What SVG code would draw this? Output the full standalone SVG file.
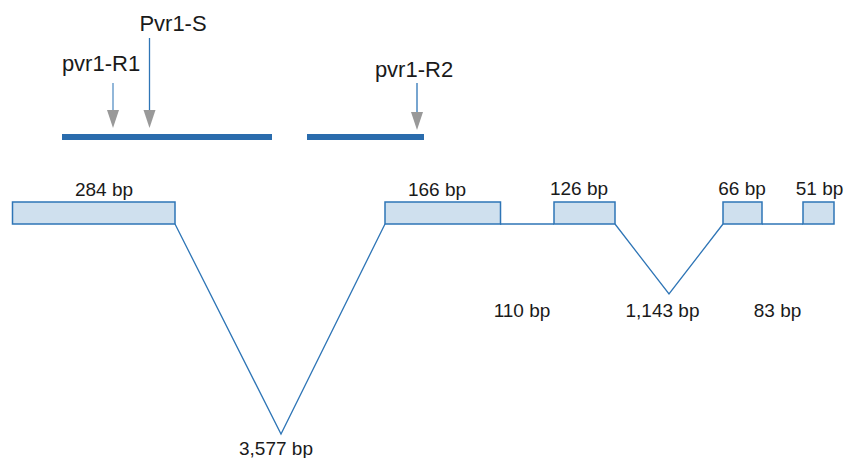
<svg xmlns="http://www.w3.org/2000/svg" width="856" height="458" viewBox="0 0 856 458">
  <style>
    .lbl { font-family: "Liberation Sans", Arial, sans-serif; fill: #1a1a1a; text-anchor: middle; }
    .primer { font-size: 22px; }
    .size { font-size: 19px; }
    .exon { fill: #cfe0ee; stroke: #2e75b6; stroke-width: 1.5; }
    .intron { fill: none; stroke: #2e75b6; stroke-width: 1.3; }
    .amplicon { stroke: #2a6cad; stroke-width: 6; }
    .shaft { stroke: #2e75b6; stroke-width: 1.3; }
    .head { fill: #999999; }
  </style>

  <!-- PCR fragments -->
  <g id="fragments">
    <line class="amplicon" x1="62" y1="137" x2="272" y2="137"/>
    <line class="amplicon" x1="307" y1="137" x2="424" y2="137"/>
  </g>

  <!-- primer positions -->
  <g id="primer-R1">
    <text class="lbl primer" x="101" y="71">pvr1-R1</text>
    <line class="shaft" x1="113" y1="83" x2="113" y2="111" stroke-opacity="0.8"/>
    <polygon class="head" points="107,110 119,110 113,128"/>
  </g>
  <g id="primer-S">
    <text class="lbl primer" x="173" y="31">Pvr1-S</text>
    <line class="shaft" x1="149.5" y1="38" x2="149.5" y2="111"/>
    <polygon class="head" points="143.5,110 155.5,110 149.5,128"/>
  </g>
  <g id="primer-R2">
    <text class="lbl primer" x="414" y="77">pvr1-R2</text>
    <line class="shaft" x1="417" y1="83" x2="417" y2="113"/>
    <polygon class="head" points="411,112 423,112 417,130"/>
  </g>

  <!-- introns -->
  <g id="connectors">
    <polyline class="intron" points="175,224 281,434 385,224"/>
    <line class="intron" x1="500" y1="224" x2="554" y2="224"/>
    <polyline class="intron" points="615,224 669,294 723,224"/>
    <line class="intron" x1="762" y1="224" x2="803" y2="224"/>
  </g>

  <!-- exons -->
  <g id="exon1">
    <rect class="exon" x="12.5" y="202" width="162.5" height="22"/>
    <text class="lbl size" x="104" y="196">284 bp</text>
  </g>
  <g id="exon2">
    <rect class="exon" x="385" y="202" width="115.5" height="22"/>
    <text class="lbl size" x="437" y="196">166 bp</text>
  </g>
  <g id="exon3">
    <rect class="exon" x="554" y="202" width="61" height="22"/>
    <text class="lbl size" x="579" y="195">126 bp</text>
  </g>
  <g id="exon4">
    <rect class="exon" x="723" y="202" width="39" height="22"/>
    <text class="lbl size" x="742" y="195">66 bp</text>
  </g>
  <g id="exon5">
    <rect class="exon" x="803" y="202" width="31" height="22"/>
    <text class="lbl size" x="819.5" y="195">51 bp</text>
  </g>

  <!-- intron lengths -->
  <g id="intron-labels">
    <text class="lbl size" x="276" y="455">3,577 bp</text>
    <text class="lbl size" x="522" y="317">110 bp</text>
    <text class="lbl size" x="662.5" y="317">1,143 bp</text>
    <text class="lbl size" x="777.5" y="317">83 bp</text>
  </g>
</svg>
